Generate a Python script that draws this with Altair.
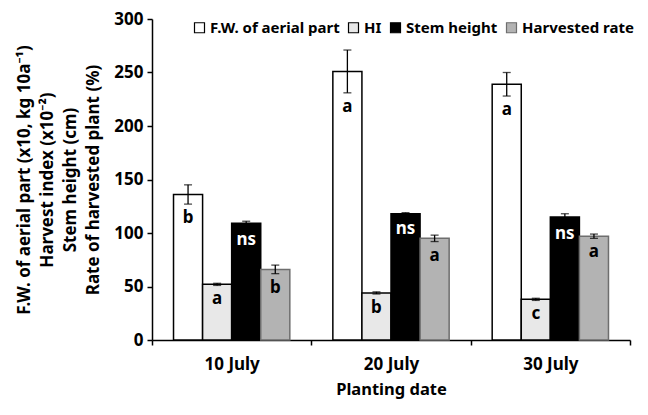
import altair as alt
import pandas as pd

dates = ["10 July", "20 July", "30 July"]
series = ["F.W. of aerial part", "HI", "Stem height", "Harvested rate"]
fw = [136, 251, 239]
fw_err = [9, 20, 11]
hi = [52, 44, 38]
hi_err = [1, 1, 1]
stem = [109, 118, 115]
stem_err = [2, 1, 3]
harv = [66, 95, 97]
harv_err = [4, 3, 2]
fw_lab = ["b", "a", "a"]
hi_lab = ["a", "b", "c"]
stem_lab = ["ns", "ns", "ns"]
harv_lab = ["b", "a", "a"]

rows = []
for vals, errs, labs, s in [(fw, fw_err, fw_lab, series[0]), (hi, hi_err, hi_lab, series[1]),
                            (stem, stem_err, stem_lab, series[2]), (harv, harv_err, harv_lab, series[3])]:
    for d, v, e, l in zip(dates, vals, errs, labs):
        rows.append({"date": d, "series": s, "value": v, "lo": v - e, "hi": v + e, "lab": l,
                     "white": s == "Stem height"})
df = pd.DataFrame(rows)

FONT = "Noto Sans"
fill_scale = alt.Scale(domain=series, range=["#ffffff", "#e8e8e8", "#000000", "#b3b3b3"])
stroke_scale = alt.Scale(domain=series, range=["#000000", "#000000", "#000000", "#6e6e6e"])

x = alt.X("date:N", sort=dates, title="Planting date",
          scale=alt.Scale(paddingInner=0, paddingOuter=0),
          axis=alt.Axis(labelAngle=0, tickBand="extent", tickSize=5, labelPadding=11,
                        titlePadding=9, domainColor="#000", tickColor="#000", domainWidth=1.5,
                        tickWidth=1.5))
xo = alt.XOffset("series:N", sort=series, scale=alt.Scale(paddingOuter=0.74, paddingInner=0))

base = alt.Chart(df).encode(x=x, xOffset=xo)

bars = base.mark_bar(strokeWidth=1.5).encode(
    y=alt.Y("value:Q", scale=alt.Scale(domain=[0, 300]),
            title=["F.W. of aerial part (x10, kg 10a⁻¹)", "Harvest index (x10⁻²)",
                   "Stem height (cm)", "Rate of harvested plant (%)"],
            axis=alt.Axis(values=[0, 50, 100, 150, 200, 250, 300], grid=False, tickSize=5,
                          domainColor="#000", tickColor="#000", domainWidth=1.5, tickWidth=1.5,
                          labelPadding=4, titlePadding=11, titleLineHeight=23)),
    fill=alt.Fill("series:N", scale=fill_scale, sort=series,
                  legend=alt.Legend(title=None, orient="none", direction="horizontal",
                                    legendX=40, legendY=1, symbolType="square",
                                    symbolStrokeColor="#000", symbolStrokeWidth=1.2,
                                    symbolSize=100, labelFontSize=15, labelFont=FONT,
                                    labelFontWeight="bold", columnPadding=6, labelOffset=3)),
    stroke=alt.Stroke("series:N", scale=stroke_scale, legend=None),
)

rule = base.mark_rule(color="#000", strokeWidth=1.3).encode(y="lo:Q", y2="hi:Q")
cap_hi = base.mark_tick(color="#000", orient="horizontal", size=8, thickness=1.3).encode(y="hi:Q")
cap_lo = base.mark_tick(color="#000", orient="horizontal", size=8, thickness=1.3).encode(y="lo:Q")

text = base.mark_text(baseline="top", dy=6, fontSize=17, font=FONT, fontWeight="bold").encode(
    y="lo:Q", text="lab:N",
    color=alt.condition("datum.white", alt.value("#ffffff"), alt.value("#000000")))

chart = alt.layer(bars, rule, cap_hi, cap_lo, text).properties(
    width=478, height=321, padding={"left": 7, "top": 2, "right": 5, "bottom": 5}
).configure_view(stroke=None).configure_axis(
    labelFont=FONT, titleFont=FONT, labelFontWeight="bold", titleFontWeight="bold",
    labelFontSize=17, titleFontSize=17, labelColor="#000", titleColor="#000"
).configure_axisX(labelFontSize=17, titleFontSize=16.5)

chart.save("out.html", embed_options={"renderer": "svg", "actions": False})
